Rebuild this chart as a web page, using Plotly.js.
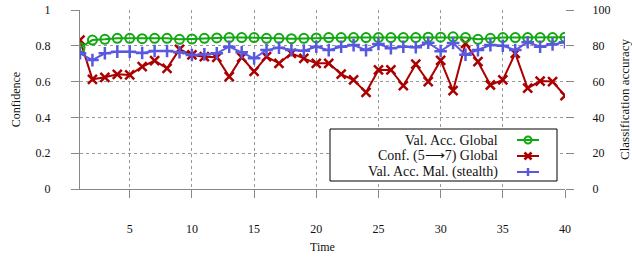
<!DOCTYPE html>
<html>
<head>
<meta charset="utf-8">
<script src="https://cdn.plot.ly/plotly-3.0.1.min.js"></script>
<style>html,body{margin:0;padding:0;background:#fff;}#chart{width:632px;height:258px;}</style>
</head>
<body>
<div id="chart"></div>
<script>
// ---- data ----
const time = Array.from({length: 40}, (_, i) => i + 1);
const valAccGlobal = [79, 83.2, 83.6, 84.2, 84.2, 84, 84.2, 84.2, 83.6, 83.8, 84.2, 84.4, 84.6, 84.6, 84.6, 84.2, 84.2, 84, 84.2, 84.4,
  84.6, 84.6, 84.6, 84.6, 84.6, 84.6, 84.6, 84.6, 84.8, 84.8, 85, 84.6, 83.6, 84.2, 84.6, 84.6, 84.6, 84.6, 84.6, 84.8];
const confGlobal = [0.832, 0.613, 0.624, 0.641, 0.637, 0.683, 0.717, 0.674, 0.78, 0.749, 0.739, 0.736, 0.628, 0.736, 0.657, 0.739, 0.702, 0.758, 0.73, 0.702,
  0.702, 0.642, 0.609, 0.54, 0.665, 0.665, 0.577, 0.697, 0.6, 0.718, 0.549, 0.814, 0.711, 0.581, 0.609, 0.758, 0.563, 0.603, 0.60, 0.521];
const valAccMal = [75.8, 72, 75.8, 76.7, 76.7, 76, 77.1, 77.1, 76.4, 74.9, 75.2, 75.8, 79.5, 76.4, 73, 77.6, 78.9, 77.6, 77.3, 79.5,
  77.6, 79.5, 80.4, 77.6, 81, 78.6, 79.5, 79.2, 81.7, 77, 81.6, 75, 77.6, 80.4, 80, 77.6, 82, 79.5, 80.8, 82];
const seriesNames = ["Val. Acc. Global", "Conf. (5\u27F67) Global", "Val. Acc. Mal. (stealth)"];
const xTicks = [5, 10, 15, 20, 25, 30, 35, 40];

// ---- styles ----
const GREEN = "#12a812", RED = "#aa0000", BLUE = "#5858e0";
const FONT = "Liberation Serif, Times New Roman, serif";
const L = 80, R = 565, T = 10, B = 189;
const px = x => (x - L) / (R - L);
const py = y => (B - y) / (B - T);

const traces = [
  {x: time, y: valAccGlobal, yaxis: "y2", name: seriesNames[0], mode: "lines+markers", showlegend: false,
   line: {color: GREEN, width: 2}, marker: {symbol: "circle-open", size: 9, color: GREEN, line: {width: 2, color: GREEN}}},
  {x: time, y: confGlobal, yaxis: "y", name: seriesNames[1], mode: "lines+markers", showlegend: false,
   line: {color: RED, width: 2}, marker: {symbol: "x-thin-open", size: 9, color: RED, line: {width: 2.5, color: RED}}},
  {x: time, y: valAccMal, yaxis: "y2", name: seriesNames[2], mode: "lines+markers", showlegend: false,
   line: {color: BLUE, width: 2}, marker: {symbol: "cross-thin-open", size: 9, color: BLUE, line: {width: 2.5, color: BLUE}}}
];

// custom legend (symbols on the right, like the reference)
const shapes = [{type: "rect", xref: "paper", yref: "paper", x0: px(330), x1: px(557), y0: py(181), y1: py(129),
  line: {color: "#000", width: 1}, fillcolor: "#fff", layer: "above"}];
const annotations = [];
const rows = [140, 156, 172];
const cols = [GREEN, RED, BLUE];
const sx = 528;
rows.forEach((ry, i) => {
  annotations.push({xref: "paper", yref: "paper", x: px(500), y: py(ry), xanchor: "right", yanchor: "middle",
    text: seriesNames[i], showarrow: false, font: {family: FONT, size: 14, color: "#111"}});
  shapes.push({type: "line", xref: "paper", yref: "paper", x0: px(sx - 11), x1: px(sx + 11), y0: py(ry), y1: py(ry),
    line: {color: cols[i], width: 2}, layer: "above"});
});
const r = 3.5;
shapes.push({type: "circle", xref: "paper", yref: "paper", x0: px(sx - r), x1: px(sx + r), y0: py(rows[0] + r), y1: py(rows[0] - r),
  line: {color: GREEN, width: 2}, fillcolor: "rgba(0,0,0,0)", layer: "above"});
shapes.push({type: "line", xref: "paper", yref: "paper", x0: px(sx - r), x1: px(sx + r), y0: py(rows[1] - r), y1: py(rows[1] + r), line: {color: RED, width: 2.5}, layer: "above"});
shapes.push({type: "line", xref: "paper", yref: "paper", x0: px(sx - r), x1: px(sx + r), y0: py(rows[1] + r), y1: py(rows[1] - r), line: {color: RED, width: 2.5}, layer: "above"});
shapes.push({type: "line", xref: "paper", yref: "paper", x0: px(sx), x1: px(sx), y0: py(rows[2] - r - 0.5), y1: py(rows[2] + r + 0.5), line: {color: BLUE, width: 2.5}, layer: "above"});

const axisCommon = {
  ticks: "outside", ticklen: 8, tickcolor: "#888", tickwidth: 1,
  tickfont: {family: FONT, size: 12, color: "#111"}, zeroline: false
};

const layout = {
  width: 632, height: 258,
  margin: {l: L, r: 632 - R, t: T, b: 258 - B, pad: 0},
  paper_bgcolor: "#fff", plot_bgcolor: "#fff",
  font: {family: FONT, size: 12, color: "#111"},
  showlegend: false,
  xaxis: Object.assign({}, axisCommon, {
    range: [1, 40], tickvals: xTicks, showline: true, linecolor: "#888", linewidth: 1,
    showgrid: true, gridcolor: "#999", griddash: "dot", gridwidth: 1, ticklabelstandoff: 21,
    title: {text: "Time", font: {family: FONT, size: 12, color: "#111"}, standoff: 7}
  }),
  yaxis: Object.assign({}, axisCommon, {
    range: [0, 1], dtick: 0.2, showline: true, linecolor: "#888", linewidth: 1,
    showgrid: true, gridcolor: "#999", griddash: "dot", gridwidth: 1, ticklabelstandoff: 18,
    title: {text: "Confidence", font: {family: FONT, size: 12, color: "#111"}, standoff: 12}
  }),
  yaxis2: Object.assign({}, axisCommon, {
    overlaying: "y", side: "right", range: [0, 100], dtick: 20, showline: false, showgrid: false,
    ticklabelstandoff: 16,
    title: {text: "Classification accuracy", font: {family: FONT, size: 13, color: "#111"}, standoff: 14}
  }),
  shapes: shapes,
  annotations: annotations
};

Plotly.newPlot("chart", traces, layout, {staticPlot: true, displayModeBar: false});
</script>
</body>
</html>
